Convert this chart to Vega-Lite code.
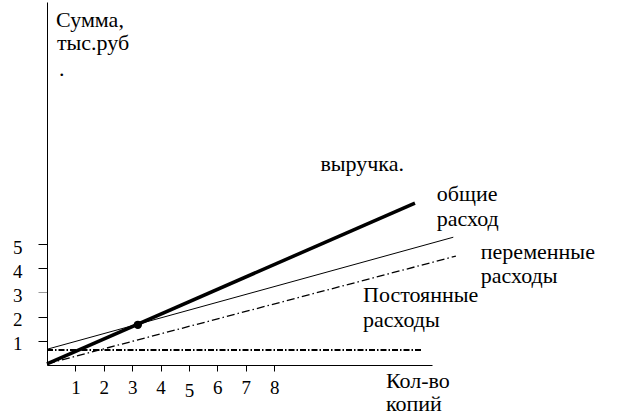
{
  "$schema": "https://vega.github.io/schema/vega-lite/v6.json",
  "width": 385,
  "height": 363,
  "autosize": {"type": "none"},
  "padding": {"left": 47, "top": 2, "right": 195, "bottom": 51},
  "datasets": {
    "lines": [
      {"series": "revenue", "x": 0, "y": 0.05},
      {"series": "revenue", "x": 12.96, "y": 6.69},
      {"series": "total", "x": 0, "y": 0.65},
      {"series": "total", "x": 14.31, "y": 5.28},
      {"series": "variable", "x": 0, "y": 0.05},
      {"series": "variable", "x": 14.4, "y": 4.5},
      {"series": "fixed", "x": 0, "y": 0.62},
      {"series": "fixed", "x": 13.23, "y": 0.62}
    ],
    "breakeven": [
      {"x": 3.2, "y": 1.66}
    ],
    "labels": [
      {"text": "Сумма,", "x": 0.32, "y": 13.98},
      {"text": "тыс.руб", "x": 0.35, "y": 13.03},
      {"text": ".", "x": 0.42, "y": 11.94},
      {"text": "выручка.", "x": 9.63, "y": 8.03},
      {"text": "общие", "x": 13.73, "y": 6.76},
      {"text": "расход", "x": 13.73, "y": 5.74},
      {"text": "переменные", "x": 15.28, "y": 4.4},
      {"text": "расходы", "x": 15.28, "y": 3.39},
      {"text": "Постоянные", "x": 11.13, "y": 2.62},
      {"text": "расходы", "x": 11.13, "y": 1.59},
      {"text": "Кол-во", "x": 11.94, "y": -0.95},
      {"text": "копий", "x": 11.94, "y": -1.9}
    ]
  },
  "encoding": {
    "x": {
      "field": "x",
      "type": "quantitative",
      "scale": {"domain": [0, 13.56], "nice": false, "zero": false},
      "axis": {
        "title": null,
        "grid": false,
        "values": [1, 2, 3, 4, 5, 6, 7, 8],
        "domainColor": "black",
        "tickColor": "black",
        "tickSize": 6,
        "labelFont": "Liberation Serif",
        "labelFontSize": 19,
        "labelColor": "black",
        "labelPadding": {"condition": {"test": "datum.value == 5", "value": 10}, "value": 7}
      }
    },
    "y": {
      "field": "y",
      "type": "quantitative",
      "scale": {"domain": [0, 15], "nice": false, "zero": false},
      "axis": {
        "title": null,
        "grid": false,
        "values": [1, 2, 3, 4, 5],
        "domainColor": "black",
        "tickColor": {"condition": {"test": "datum.value == 3", "value": "#999999"}, "value": "black"},
        "tickSize": 9,
        "labelFont": "Liberation Serif",
        "labelFontSize": 19,
        "labelColor": "black",
        "labelPadding": 16,
        "labelOffset": 3
      }
    }
  },
  "layer": [
    {
      "data": {"name": "lines"},
      "transform": [{"filter": "datum.series == 'fixed'"}],
      "mark": {"type": "line", "color": "black", "strokeWidth": 2, "strokeDash": [6, 2, 1.5, 2]}
    },
    {
      "data": {"name": "lines"},
      "transform": [{"filter": "datum.series == 'variable'"}],
      "mark": {"type": "line", "color": "black", "strokeWidth": 1.3, "strokeDash": [8, 3, 1.5, 3]}
    },
    {
      "data": {"name": "lines"},
      "transform": [{"filter": "datum.series == 'total'"}],
      "mark": {"type": "line", "color": "black", "strokeWidth": 1}
    },
    {
      "data": {"name": "lines"},
      "transform": [{"filter": "datum.series == 'revenue'"}],
      "mark": {"type": "line", "color": "black", "strokeWidth": 3.5}
    },
    {
      "data": {"name": "breakeven"},
      "mark": {"type": "circle", "color": "black", "opacity": 1, "size": 70}
    },
    {
      "data": {"name": "labels"},
      "mark": {
        "type": "text",
        "align": "left",
        "baseline": "alphabetic",
        "font": "Liberation Serif",
        "fontSize": 22,
        "color": "black"
      },
      "encoding": {"text": {"field": "text"}}
    }
  ],
  "config": {
    "view": {"stroke": null},
    "font": "Liberation Serif"
  }
}
